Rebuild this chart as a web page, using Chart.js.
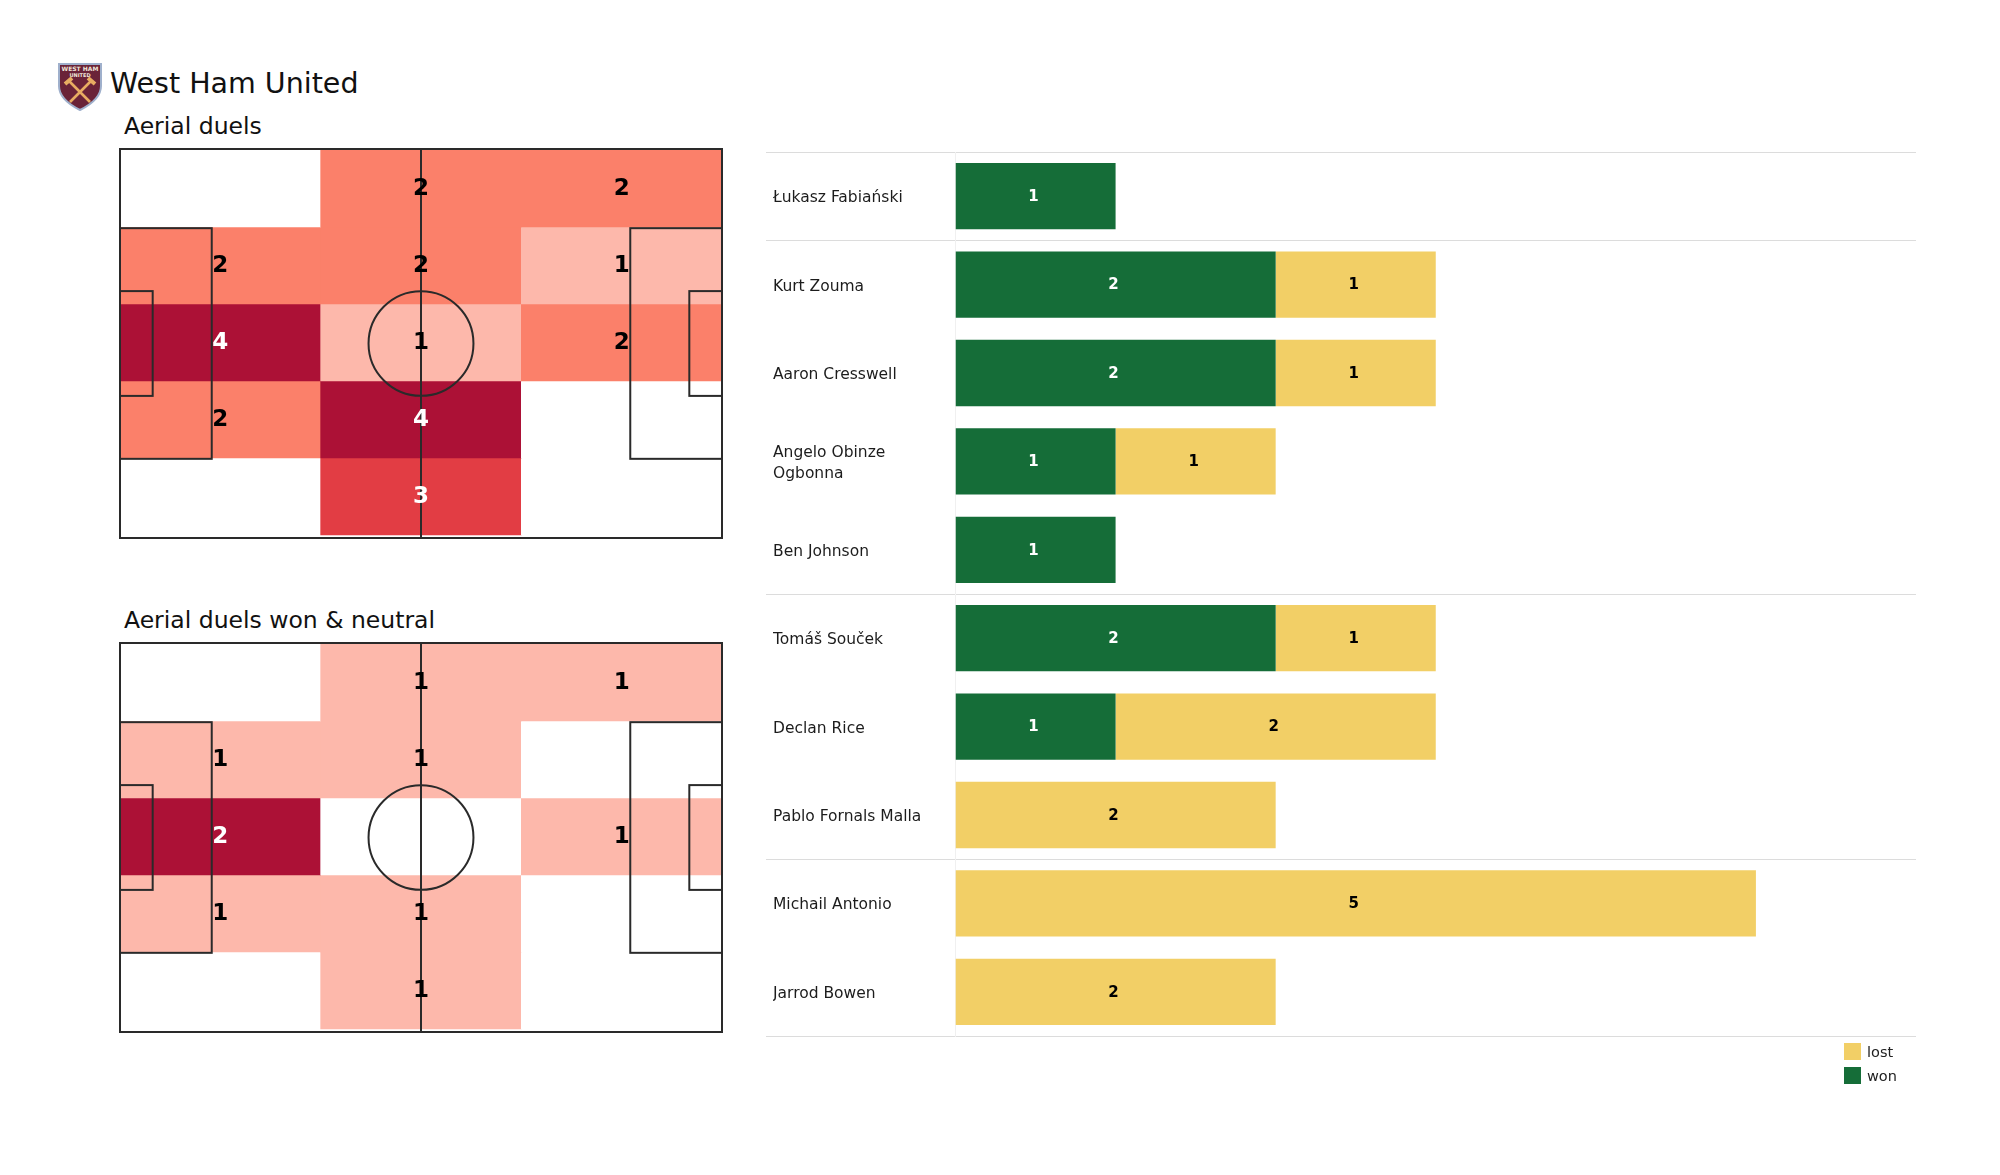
<!DOCTYPE html>
<html>
<head>
<meta charset="utf-8">
<title>West Ham United - Aerial duels</title>
<script src="https://cdn.jsdelivr.net/npm/chart.js@4"></script>
<style>
  html, body { margin: 0; background: #fff; }
  body { position: relative; width: 2000px; height: 1175px; overflow: hidden; font-family: "DejaVu Sans", sans-serif; color: #111; }
  canvas { position: absolute; }
  .title { position: absolute; white-space: nowrap; line-height: 1; }
  #team { left: 110px; top: 70px; font-size: 28.5px; }
  #sub1 { left: 124px; top: 114.5px; font-size: 23.5px; }
  #sub2 { left: 124px; top: 608.5px; font-size: 23.5px; }
  #crest { position: absolute; left: 57px; top: 61px; }
  .key { position: absolute; left: 1844px; font-size: 14.5px; line-height: 19px; white-space: nowrap; color: #222; }
  .key i { display: inline-block; width: 17px; height: 17px; margin-right: 6px; vertical-align: top; }
</style>
</head>
<body>
<svg id="crest" width="46" height="50" viewBox="0 0 46 50">
  <path d="M2 3 H44 V25 C44 37 33 44 23 49 C13 44 2 37 2 25 Z" fill="#6a2338" stroke="#9fb0cc" stroke-width="2"/>
  <text x="23" y="10" text-anchor="middle" font-size="6" font-weight="bold" fill="#f0e6d8">WEST HAM</text>
  <text x="23" y="16" text-anchor="middle" font-size="5" font-weight="bold" fill="#f0e6d8">UNITED</text>
  <path d="M12 20 L33 41 M34 20 L13 41" stroke="#e8ad62" stroke-width="2.6"/>
  <path d="M8 23 L15 17 M38 23 L31 17" stroke="#e8ad62" stroke-width="4"/>
</svg>
<div class="title" id="team">West Ham United</div>
<div class="title" id="sub1">Aerial duels</div>
<div class="title" id="sub2">Aerial duels won &amp; neutral</div>

<canvas id="pitchAll" width="622" height="409" style="left:110px;top:139px"></canvas>
<canvas id="pitchWon" width="622" height="409" style="left:110px;top:633px"></canvas>
<canvas id="players" width="1160" height="905" style="left:766px;top:140px"></canvas>

<div class="key" style="top:1043px"><i style="background:#f2cf66"></i>lost</div>
<div class="key" style="top:1067px"><i style="background:#156d38"></i>won</div>

<script>
// zones, top row first, three columns left to right
const duelsAll = [
  [0, 2, 2],
  [2, 2, 1],
  [4, 1, 2],
  [2, 4, 0],
  [0, 3, 0],
];
const duelsWon = [
  [0, 1, 1],
  [1, 1, 0],
  [2, 0, 1],
  [1, 1, 0],
  [0, 1, 0],
];
const columns = ['left', 'centre', 'right'];

const players = [
  'Łukasz Fabiański',
  'Kurt Zouma',
  'Aaron Cresswell',
  ['Angelo Obinze', 'Ogbonna'],
  'Ben Johnson',
  'Tomáš Souček',
  'Declan Rice',
  'Pablo Fornals Malla',
  'Michail Antonio',
  'Jarrod Bowen',
];
const won = [1, 2, 2, 1, 1, 2, 1, 0, 0, 0];
const lost = [0, 1, 1, 1, 0, 1, 2, 2, 5, 2];
// a line is drawn under these rows
const groupEnds = [0, 4, 7, 9];

const heatColors = ['#fdb8ab', '#fb806a', '#e23d44'];
const heatTop = '#ac1136';
const green = '#156d38';
const yellow = '#f2cf66';
const lineColor = '#dcdcdc';
const pitchLine = '#2a2a2a';

function heatColor(value, max) {
  if (!value) return '#ffffff';
  return value === max ? heatTop : heatColors[value - 1];
}

// pitch markings in metres, drawn through the hidden pitch axes
const pitchPlugin = {
  id: 'pitch',
  afterDatasetsDraw(chart) {
    const { ctx, scales: { px, py } } = chart;
    const box = (x0, y0, x1, y1) => {
      ctx.strokeRect(px.getPixelForValue(x0), py.getPixelForValue(y0),
        px.getPixelForValue(x1) - px.getPixelForValue(x0),
        py.getPixelForValue(y1) - py.getPixelForValue(y0));
    };
    ctx.save();
    ctx.strokeStyle = pitchLine;
    ctx.lineWidth = 2;
    box(0, 0, 105, 68);
    box(0, 13.84, 16, 54.16);
    box(89, 13.84, 105, 54.16);
    box(0, 24.84, 5.7, 43.16);
    box(99.3, 24.84, 105, 43.16);
    ctx.beginPath();
    ctx.moveTo(px.getPixelForValue(52.5), py.getPixelForValue(0));
    ctx.lineTo(px.getPixelForValue(52.5), py.getPixelForValue(68));
    ctx.stroke();
    ctx.beginPath();
    ctx.ellipse(px.getPixelForValue(52.5), py.getPixelForValue(34),
      px.getPixelForValue(9.15) - px.getPixelForValue(0),
      py.getPixelForValue(9.15) - py.getPixelForValue(0), 0, 0, Math.PI * 2);
    ctx.stroke();
    ctx.restore();
  },
};

const cellLabels = {
  id: 'cellLabels',
  afterDraw(chart) {
    const { ctx } = chart;
    ctx.save();
    ctx.font = 'bold 23px "DejaVu Sans"';
    ctx.textAlign = 'center';
    ctx.textBaseline = 'middle';
    chart.data.datasets.forEach((ds, row) => {
      chart.getDatasetMeta(row).data.forEach((bar, col) => {
        const value = ds.counts[col];
        if (!value) return;
        const c = bar.getCenterPoint();
        ctx.fillStyle = value >= 3 || value === ds.max ? '#ffffff' : '#000000';
        ctx.fillText(String(value), c.x, c.y + 1);
      });
    });
    ctx.restore();
  },
};

const barLabels = {
  id: 'barLabels',
  afterDatasetsDraw(chart) {
    const { ctx } = chart;
    ctx.save();
    ctx.font = 'bold 15px "DejaVu Sans"';
    ctx.textAlign = 'center';
    ctx.textBaseline = 'middle';
    chart.data.datasets.forEach((ds, i) => {
      ctx.fillStyle = ds.labelColor;
      chart.getDatasetMeta(i).data.forEach((bar, k) => {
        if (!ds.data[k]) return;
        const c = bar.getCenterPoint();
        ctx.fillText(String(ds.data[k]), c.x - 2, c.y + 1);
      });
    });
    ctx.restore();
  },
};

// player names sit a little under the bar centre in the original
const nudgeNames = {
  id: 'nudgeNames',
  beforeDraw(chart) {
    chart.scales.y.getLabelItems().forEach((item) => {
      item.options.translation[1] += 2;
    });
  },
};

function renderPitch(id, rows) {
  const max = Math.max(...rows.flat());
  new Chart(document.getElementById(id), {
    type: 'bar',
    data: {
      labels: columns,
      datasets: rows.map((row, r) => ({
        label: 'row ' + (r + 1),
        counts: row,
        max: max,
        data: row.map(() => [r, r + 1]),
        backgroundColor: row.map((v) => heatColor(v, max)),
        borderWidth: 0,
        grouped: false,
        barPercentage: 1,
        categoryPercentage: 1,
      })),
    },
    options: {
      responsive: false,
      animation: false,
      layout: { padding: { left: 10, right: 10, top: 10, bottom: 10 } },
      plugins: { legend: { display: false }, tooltip: { enabled: false } },
      scales: {
        x: { type: 'category', display: false },
        y: { type: 'linear', display: false, reverse: true, min: -0.013, max: 5.04 },
        // bar charts turn offset on for every x axis, the pitch has to fill the frame
        px: { type: 'linear', axis: 'x', display: false, offset: false, min: 0, max: 105 },
        py: { type: 'linear', axis: 'y', display: false, reverse: true, min: 0, max: 68 },
      },
    },
    plugins: [pitchPlugin, cellLabels],
  });
}

renderPitch('pitchAll', duelsAll);
renderPitch('pitchWon', duelsWon);

new Chart(document.getElementById('players'), {
  type: 'bar',
  data: {
    labels: players,
    datasets: [
      { label: 'won', data: won, backgroundColor: green, labelColor: '#ffffff' },
      { label: 'lost', data: lost, backgroundColor: yellow, labelColor: '#000000' },
    ],
  },
  options: {
    indexAxis: 'y',
    responsive: false,
    animation: false,
    barPercentage: 0.75,
    categoryPercentage: 1,
    layout: { padding: { left: 7, right: 10, top: 12, bottom: 9 } },
    plugins: { legend: { display: false }, tooltip: { enabled: false } },
    scales: {
      x: { stacked: true, display: false, min: 0, max: 6 },
      y: {
        stacked: true,
        afterFit: (scale) => {
          scale.width = 182.5;
          // tick labels would otherwise eat into the plot height
          scale.paddingTop = 0;
          scale.paddingBottom = 0;
        },
        border: { color: '#f0f0f0', width: 1 },
        grid: {
          drawOnChartArea: true,
          tickLength: 190,
          // the last line has no tick of its own, so index comes back undefined
          color: (c) => (c.index === undefined || groupEnds.includes(c.index - 1) || c.index === 0 ? lineColor : 'rgba(0,0,0,0)'),
          tickColor: (c) => (c.index === undefined || groupEnds.includes(c.index - 1) || c.index === 0 ? lineColor : 'rgba(0,0,0,0)'),
        },
        ticks: {
          crossAlign: 'far',
          color: '#1c1c1c',
          font: { family: '"DejaVu Sans"', size: 15.5, lineHeight: 1.3 },
          autoSkip: false,
        },
      },
    },
  },
  plugins: [barLabels, nudgeNames],
});
</script>
</body>
</html>
